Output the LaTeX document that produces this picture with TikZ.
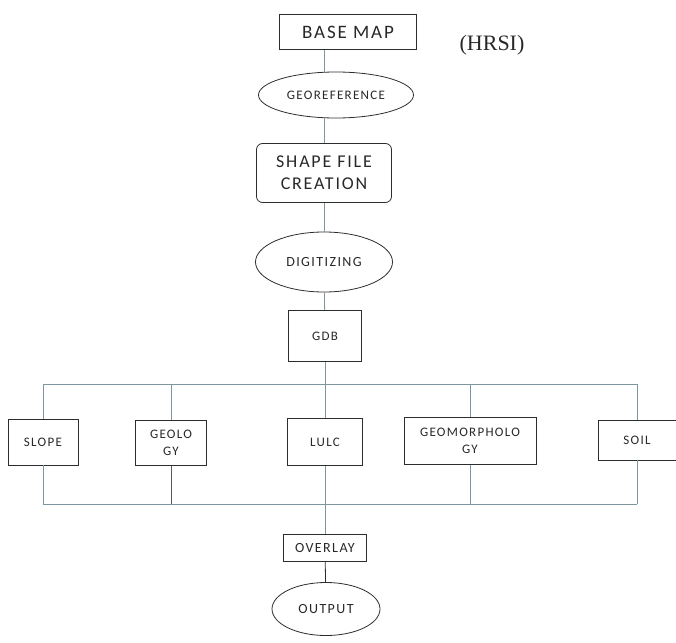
\documentclass[tikz,border=0pt]{standalone}
\usepackage{fontspec}
\setmainfont{Carlito}[LetterSpace=10]
\newfontfamily\hrsifont{Liberation Serif}
\usepackage{xcolor}
\usetikzlibrary{shapes.geometric}
\definecolor{BoxLine}{RGB}{45,45,45}
\definecolor{LinkLine}{RGB}{125,150,160}
\definecolor{LabelText}{RGB}{40,40,40}

\begin{document}
\begin{tikzpicture}[x=1pt, y=-1pt, every node/.style={font=\fontsize{13}{17}\selectfont, text=LabelText}]
  \tikzstyle{box}=[draw=BoxLine, line width=0.8pt, inner sep=0pt, align=center]
  \tikzstyle{oval}=[draw=BoxLine, line width=0.8pt, ellipse, inner sep=0pt, align=center]
  \tikzstyle{link}=[draw=LinkLine, line width=0.8pt]
  \useasboundingbox (0,0) rectangle (676,642);
  % main column
  \node[box, minimum width=137pt, minimum height=35pt, font=\fontsize{19}{20}\selectfont] (base) at (348,32) {BASE MAP};
  \node[font=\hrsifont\fontsize{22}{22}\selectfont] (hrsi) at (492,45) {(HRSI)};
  \node[oval, minimum width=155pt, minimum height=46pt] (georef) at (336,95) {GEOREFERENCE};
  \node[box, rounded corners=6pt, minimum width=135pt, minimum height=59pt,
        font=\fontsize{18}{22}\selectfont] (shape) at (324,173) {SHAPE FILE\\CREATION};
  \node[oval, minimum width=137pt, minimum height=60pt, font=\fontsize{14}{16}\selectfont] (digit) at (324,262) {DIGITIZING};
  \node[box, minimum width=73pt, minimum height=51pt] (gdb) at (325,336) {GDB};
  % thematic layers
  \node[box, minimum width=70pt, minimum height=46pt] (slope) at (43,442) {SLOPE};
  \node[box, minimum width=71pt, minimum height=45pt] (geology) at (171,443) {GEOLO\\GY};
  \node[box, minimum width=75pt, minimum height=47pt] (lulc) at (325,442) {LULC};
  \node[box, minimum width=132pt, minimum height=47pt] (geomorph) at (470,441) {GEOMORPHOLO\\GY};
  \node[box, minimum width=78pt, minimum height=40pt] (soil) at (637,440) {SOIL};
  % result
  \node[box, minimum width=83pt, minimum height=27pt, font=\fontsize{14}{16}\selectfont] (overlay) at (325,548) {OVERLAY};
  \node[oval, minimum width=108pt, minimum height=53pt, font=\fontsize{14}{16}\selectfont] (output) at (326,609) {OUTPUT};
  \coordinate (bustop) at (0,384);
  \coordinate (busbot) at (0,504);
  \draw[link] (base.south -| shape) -- (georef.north -| shape);
  \draw[link] (georef.south -| shape) -- (shape.north);
  \draw[link] (shape) -- (digit);
  \draw[link] (digit) -- (gdb);
  \draw[link] (gdb) -- (gdb |- bustop);
  \draw[link] (slope |- bustop) -- (soil |- bustop);
  \draw[link] (slope |- busbot) -- (soil |- busbot);
  \foreach \n in {slope,geology,lulc,geomorph,soil}
    \draw[link] (\n.north) -- (\n |- bustop);
  \foreach \n in {slope,geomorph,soil}
    \draw[link] (\n.south) -- (\n |- busbot);
  \draw[link, draw=BoxLine!80] (geology.south) -- (geology |- busbot);
  \draw[link] (lulc) -- (overlay);
  \draw[link, draw=BoxLine] (overlay) -- (output);
\end{tikzpicture}
\end{document}
